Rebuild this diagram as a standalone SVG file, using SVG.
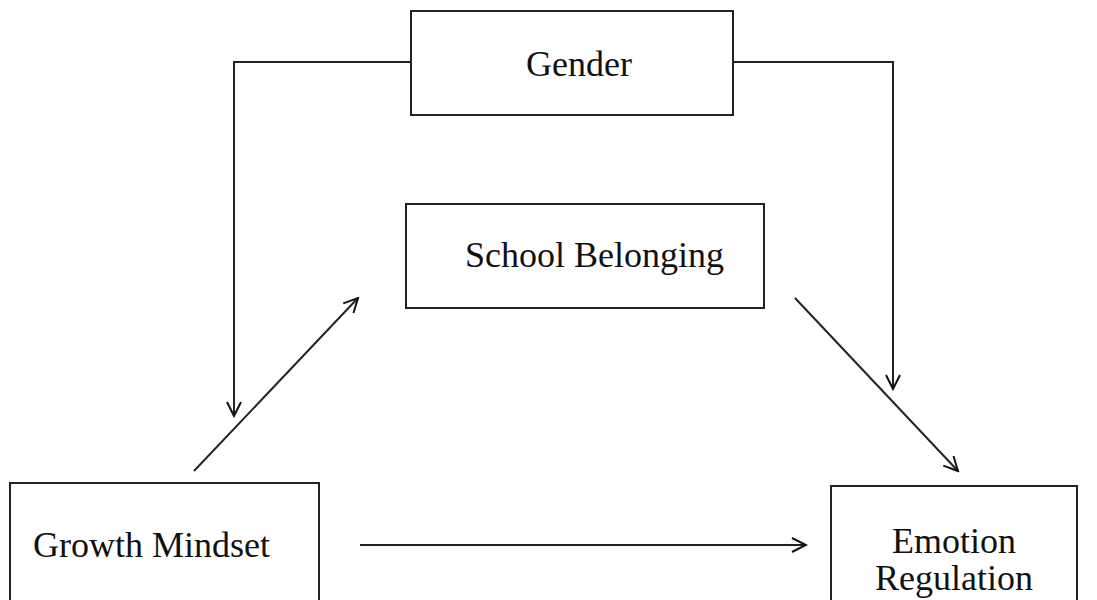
<svg xmlns="http://www.w3.org/2000/svg" width="1097" height="600" viewBox="0 0 1097 600">
  <defs>
    <marker id="arr" viewBox="0 0 20 20" refX="18" refY="10" markerWidth="20" markerHeight="20" markerUnits="userSpaceOnUse" orient="auto">
      <path d="M4,3 L18,10 L4,17" fill="none" stroke="#111" stroke-width="2"/>
    </marker>
  </defs>
  <style>
    .box { fill: #fff; stroke: #222; stroke-width: 2; }
    .lbl { font-family: "Liberation Serif", "Times New Roman", serif; font-size: 36px; fill: #111; }
    .con { fill: none; stroke: #222; stroke-width: 2; }
  </style>
  <rect width="1097" height="600" fill="#fff"/>
  <g id="connectors">
    <polyline class="con" points="411,62 234,62 234,416" marker-end="url(#arr)"/>
    <polyline class="con" points="733,62 893,62 893,389" marker-end="url(#arr)"/>
    <line class="con" x1="194" y1="471" x2="358" y2="298" marker-end="url(#arr)"/>
    <line class="con" x1="795" y1="298" x2="958" y2="471" marker-end="url(#arr)"/>
    <line class="con" x1="360" y1="545" x2="806" y2="545" marker-end="url(#arr)"/>
  </g>
  <g id="node-gender">
    <rect class="box" x="411" y="11" width="322" height="104"/>
    <text class="lbl" x="526" y="76">Gender</text>
  </g>
  <g id="node-school-belonging">
    <rect class="box" x="406" y="204" width="358" height="104"/>
    <text class="lbl" x="465" y="267">School Belonging</text>
  </g>
  <g id="node-growth-mindset">
    <rect class="box" x="10" y="483" width="309" height="130"/>
    <text class="lbl" x="33" y="557">Growth Mindset</text>
  </g>
  <g id="node-emotion-regulation">
    <rect class="box" x="831" y="486" width="246" height="130"/>
    <text class="lbl" x="954" y="553" text-anchor="middle">Emotion</text>
    <text class="lbl" x="954" y="590" text-anchor="middle">Regulation</text>
  </g>
</svg>
